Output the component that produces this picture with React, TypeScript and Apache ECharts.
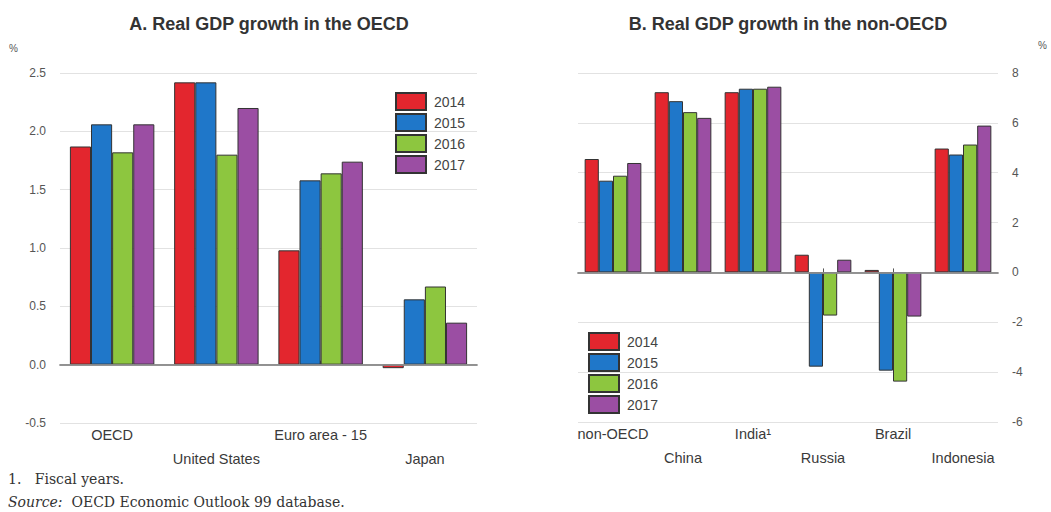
import React, { useEffect, useRef } from "react";
import * as echarts from "echarts";

const years = ["2014", "2015", "2016", "2017"];
const colors = ["#e3262e", "#1f77c9", "#8dc63f", "#9b4ea3"];

const oecdCategories = ["OECD", "United States", "Euro area - 15", "Japan"];
const oecd2014 = [1.87, 2.42, 0.98, -0.03];
const oecd2015 = [2.06, 2.42, 1.58, 0.56];
const oecd2016 = [1.82, 1.8, 1.64, 0.67];
const oecd2017 = [2.06, 2.2, 1.74, 0.36];

const nonOecdCategories = ["non-OECD", "China", "India¹", "Russia", "Brazil", "Indonesia"];
const non2014 = [4.55, 7.23, 7.23, 0.71, 0.1, 4.97];
const non2015 = [3.68, 6.87, 7.37, -3.78, -3.94, 4.73];
const non2016 = [3.88, 6.43, 7.37, -1.73, -4.38, 5.13];
const non2017 = [4.39, 6.2, 7.45, 0.51, -1.77, 5.89];

const titleA = "A. Real GDP growth in the OECD";
const titleB = "B. Real GDP growth in the non-OECD";
const footnote = "1.   Fiscal years.";
const sourceText = "OECD Economic Outlook 99 database.";

const FONT = "Liberation Sans, Arial, sans-serif";
const SERIF = "DejaVu Serif, serif";

export default function App() {
  const ref = useRef<HTMLDivElement>(null);
  useEffect(() => {
    if (!ref.current) return;
    const chart = echarts.init(ref.current, undefined, { renderer: "svg" });
    const oecdData = [oecd2014, oecd2015, oecd2016, oecd2017];
    const nonData = [non2014, non2015, non2016, non2017];
    const zeroLine = {
      silent: true,
      symbol: "none",
      label: { show: false },
      lineStyle: { color: "#9a9a9a", width: 1.5, type: "solid" },
      data: [{ yAxis: 0 }],
    };
    const mkSeries = (data: number[][], idx: number) =>
      data.map((d, i) => ({
        type: "bar",
        name: years[i],
        xAxisIndex: idx,
        yAxisIndex: idx,
        data: d,
        barGap: "0%",
        barCategoryGap: "19%",
        itemStyle: { color: colors[i], borderColor: "#333", borderWidth: 1 },
        ...(i === 0 ? { markLine: zeroLine } : {}),
      }));
    const xAxisCommon = (cats: string[], gi: number) => ({
      type: "category",
      gridIndex: gi,
      data: cats,
      axisLine: { show: true, lineStyle: { color: "#555", width: 1.5 } },
      axisTick: { show: true, inside: true, alignWithLabel: true, length: 4, lineStyle: { color: "#555" } },
      axisLabel: {
        interval: 0,
        margin: 0,
        fontFamily: FONT,
        fontSize: 14.5,
        color: "#3a3a3a",
        lineHeight: 24,
        formatter: (v: string, i: number) => (i % 2 === 1 ? "\n" + v : v),
      },
    });
    const legendCommon = {
      orient: "vertical",
      icon: "rect",
      itemWidth: 30,
      itemHeight: 17,
      itemGap: 2,
      padding: 0,
      data: years,
      textStyle: { fontFamily: FONT, fontSize: 14, color: "#444", lineHeight: 17, padding: [0, 0, 0, 3] },
      selectedMode: false,
    };
    const titleStyle = { fontFamily: FONT, fontSize: 18, fontWeight: "bold", color: "#333" };
    chart.setOption({
      animation: false,
      title: [
        { text: titleA, left: 264, top: 10, textAlign: "center", textStyle: titleStyle },
        { text: titleB, left: 783, top: 10, textAlign: "center", textStyle: titleStyle },
      ],
      legend: [
        { ...legendCommon, left: 395, top: 92 },
        { ...legendCommon, left: 588, top: 332 },
      ],
      grid: [
        { left: 60, top: 73, width: 417, height: 350 },
        { left: 578, top: 73, width: 420, height: 349 },
      ],
      xAxis: [xAxisCommon(oecdCategories, 0), xAxisCommon(nonOecdCategories, 1)],
      yAxis: [
        {
          type: "value",
          gridIndex: 0,
          min: -0.5,
          max: 2.5,
          interval: 0.5,
          axisLine: { show: false },
          axisTick: { show: false },
          splitLine: { lineStyle: { color: "#e2e2e2" } },
          axisLabel: {
            margin: 14,
            fontFamily: FONT,
            fontSize: 12,
            color: "#555",
            formatter: (v: number) => v.toFixed(1),
          },
        },
        {
          type: "value",
          gridIndex: 1,
          position: "right",
          min: -6,
          max: 8,
          interval: 2,
          axisLine: { show: false },
          axisTick: { show: false },
          splitLine: { lineStyle: { color: "#e2e2e2" } },
          axisLabel: { margin: 14, fontFamily: FONT, fontSize: 12, color: "#555" },
        },
      ],
      series: [...mkSeries(oecdData, 0), ...mkSeries(nonData, 1)],
      graphic: [
        {
          type: "text",
          left: 9,
          top: 43,
          style: { text: "%", fontFamily: FONT, fontSize: 10, fill: "#555" },
        },
        {
          type: "text",
          left: 1038,
          top: 40,
          style: { text: "%", fontFamily: FONT, fontSize: 10, fill: "#555" },
        },
        {
          type: "text",
          left: 8,
          top: 472,
          style: { text: footnote, fontFamily: SERIF, fontSize: 14, fill: "#333" },
        },
        {
          type: "text",
          left: 8,
          top: 495,
          style: {
            text: "{i|Source:}  " + sourceText,
            fontFamily: SERIF,
            fontSize: 14,
            fill: "#333",
            rich: { i: { fontStyle: "italic", fontFamily: SERIF, fontSize: 14, fill: "#333" } },
          },
        },
      ],
    });
    return () => chart.dispose();
  }, []);
  return (
    <div
      ref={ref}
      style={{ position: "fixed", left: 0, top: 0, width: 1051, height: 512, background: "#fff" }}
    />
  );
}
